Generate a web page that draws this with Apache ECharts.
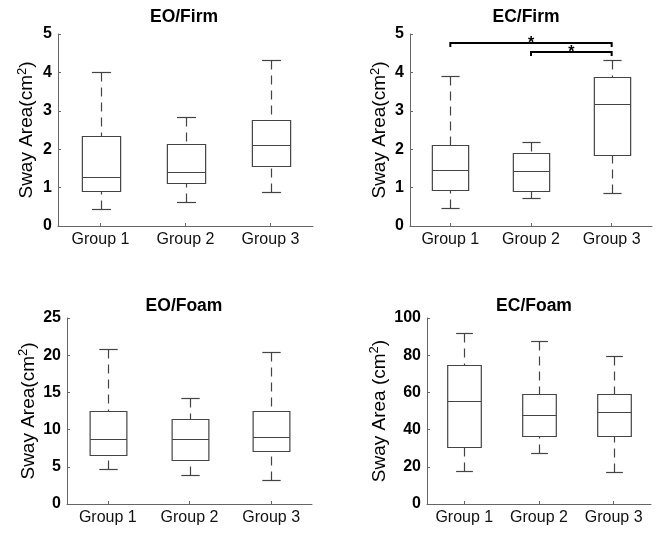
<!DOCTYPE html>
<html>
<head>
<meta charset="utf-8">
<script src="https://cdn.jsdelivr.net/npm/echarts@6/dist/echarts.min.js"></script>
<style>
html,body{margin:0;padding:0;background:#fff;}
#chart{width:669px;height:537px;}
</style>
</head>
<body>
<div id="chart"></div>
<script>
// ---- Data (boxplot stats: [min, Q1, median, Q3, max]) ----
const categories = ['Group 1', 'Group 2', 'Group 3'];
const panelTitles = ['EO/Firm', 'EC/Firm', 'EO/Foam', 'EC/Foam'];
const eoFirm = [[0.45, 0.90, 1.27, 2.35, 4.02], [0.63, 1.11, 1.41, 2.14, 2.83], [0.89, 1.55, 2.10, 2.75, 4.33]];
const ecFirm = [[0.47, 0.93, 1.45, 2.10, 3.90], [0.74, 0.92, 1.44, 1.90, 2.20], [0.87, 1.85, 3.17, 3.88, 4.31]];
const eoFoam = [[4.7, 6.6, 8.7, 12.45, 20.8], [3.95, 5.95, 8.8, 11.4, 14.25], [3.25, 7.1, 9.0, 12.55, 20.45]];
const ecFoam = [[17.7, 30.8, 55.2, 74.5, 91.8], [27.2, 36.7, 47.6, 58.9, 87.8], [17.4, 36.7, 49.5, 58.9, 79.6]];
const yMax = [5, 5, 25, 100];
const yInterval = [1, 1, 5, 20];
const yNames = ['Sway Area(cm{sup|2})', 'Sway Area(cm{sup|2})', 'Sway Area(cm{sup|2})', 'Sway Area (cm{sup|2})'];
// significance brackets on EC/Firm: [from group, to group, bracket level, label]
const sigFrom = [1, 2];
const sigTo = [3, 3];
const sigLevel = [4.77, 4.52];
const sigLabel = ['*', '*'];

// ---- Layout ----
const FONT = 'Liberation Sans, Arial, Helvetica, sans-serif';
const grids = [
  {left: 58, top: 34, width: 255, height: 192},
  {left: 410, top: 34, width: 242, height: 192},
  {left: 67, top: 318, width: 245, height: 186},
  {left: 427, top: 318, width: 224, height: 186}
];
const nameGaps = [20, 16, 24, 36];
const titlePos = [[184, 17], [526, 17], [184, 306], [534, 306]];
const panelData = [eoFirm, ecFirm, eoFoam, ecFoam];

const BOX_COLOR = '#444';
const AXIS_COLOR = '#666';

function boxRender(params, api) {
  const x = api.value(0);
  const v = [api.value(1), api.value(2), api.value(3), api.value(4), api.value(5)];
  const p = v.map(val => api.coord([x, val]));
  const cx = Math.round(p[0][0]) + 0.5;
  const band = api.size([1, 0])[0];
  const bw = band * 0.45;
  const cw = bw * 0.5;
  const y = p.map(q => Math.round(q[1]) + 0.5);
  const solid = {stroke: BOX_COLOR, lineWidth: 1.2, fill: null};
  const dashed = {stroke: BOX_COLOR, lineWidth: 1.2, lineDash: [9, 6], fill: null};
  return {
    type: 'group',
    children: [
      {type: 'line', shape: {x1: cx, y1: y[4], x2: cx, y2: y[3]}, style: dashed},
      {type: 'line', shape: {x1: cx, y1: y[0], x2: cx, y2: y[1]}, style: dashed},
      {type: 'line', shape: {x1: cx - cw / 2, y1: y[4], x2: cx + cw / 2, y2: y[4]}, style: solid},
      {type: 'line', shape: {x1: cx - cw / 2, y1: y[0], x2: cx + cw / 2, y2: y[0]}, style: solid},
      {type: 'rect', shape: {x: cx - bw / 2, y: y[3], width: bw, height: y[1] - y[3]}, style: {stroke: BOX_COLOR, lineWidth: 1.2, fill: 'rgba(255,255,255,0)'}},
      {type: 'line', shape: {x1: cx - bw / 2, y1: y[2], x2: cx + bw / 2, y2: y[2]}, style: solid}
    ]
  };
}

function bracketRender(params, api) {
  const a = api.coord([api.value(0), api.value(2)]);
  const b = api.coord([api.value(1), api.value(2)]);
  const yy = Math.round(a[1]);
  const drop = 4;
  return {
    type: 'group',
    children: [
      {type: 'polyline', shape: {points: [[a[0], yy + drop], [a[0], yy], [b[0], yy], [b[0], yy + drop]]},
        style: {stroke: '#000', lineWidth: 2, fill: null}},
      {type: 'text', x: (a[0] + b[0]) / 2, y: yy + 1,
        style: {text: sigLabel[params.dataIndex], font: 'bold 16px ' + FONT, fill: '#000', align: 'center', verticalAlign: 'middle'}}
    ]
  };
}

const xAxes = [], yAxes = [], series = [], graphics = [];
for (let i = 0; i < 4; i++) {
  xAxes.push({
    type: 'category', gridIndex: i, data: categories,
    axisLine: {lineStyle: {color: AXIS_COLOR, width: 1}},
    axisTick: {show: true, inside: true, alignWithLabel: true, length: 3, lineStyle: {color: AXIS_COLOR}},
    axisLabel: {fontSize: 16, color: '#111', margin: 6, fontFamily: FONT, interval: 0, hideOverlap: false},
    splitLine: {show: false}
  });
  yAxes.push({
    type: 'value', gridIndex: i, min: 0, max: yMax[i], interval: yInterval[i],
    axisLine: {show: true, lineStyle: {color: AXIS_COLOR, width: 1}},
    axisTick: {show: true, inside: true, length: 3, lineStyle: {color: AXIS_COLOR}},
    axisLabel: {fontSize: 16, color: '#000', margin: 6, fontWeight: 'bold', fontFamily: FONT},
    splitLine: {show: false},
    name: yNames[i], nameLocation: 'middle', nameGap: nameGaps[i], nameRotate: 90,
    nameTextStyle: {fontSize: 19, color: '#000', fontFamily: FONT, lineHeight: 22,
      rich: {sup: {fontSize: 13, fontFamily: FONT, color: '#000', verticalAlign: 'top', lineHeight: 13}}}
  });
  series.push({
    type: 'custom', xAxisIndex: i, yAxisIndex: i,
    renderItem: boxRender,
    encode: {x: 0, y: [1, 2, 3, 4, 5]},
    data: panelData[i].map((s, k) => [k].concat(s)),
    silent: true, clip: false
  });
  graphics.push({
    type: 'text', x: titlePos[i][0], y: titlePos[i][1],
    style: {text: panelTitles[i], font: 'bold 17.5px ' + FONT, fill: '#000', align: 'center', verticalAlign: 'middle'}
  });
}
// hidden value axis for significance annotations on EC/Firm
xAxes.push({type: 'value', gridIndex: 1, min: 0.5, max: 3.5, show: false});
series.push({
  type: 'custom', xAxisIndex: 4, yAxisIndex: 1,
  renderItem: bracketRender,
  encode: {x: [0, 1], y: 2},
  data: sigFrom.map((f, k) => [f, sigTo[k], sigLevel[k]]),
  silent: true, clip: false
});

const chart = echarts.init(document.getElementById('chart'), null, {renderer: 'canvas'});
chart.setOption({
  animation: false,
  backgroundColor: '#fff',
  textStyle: {fontFamily: FONT},
  grid: grids,
  xAxis: xAxes,
  yAxis: yAxes,
  series: series,
  graphic: graphics
});
</script>
</body>
</html>
